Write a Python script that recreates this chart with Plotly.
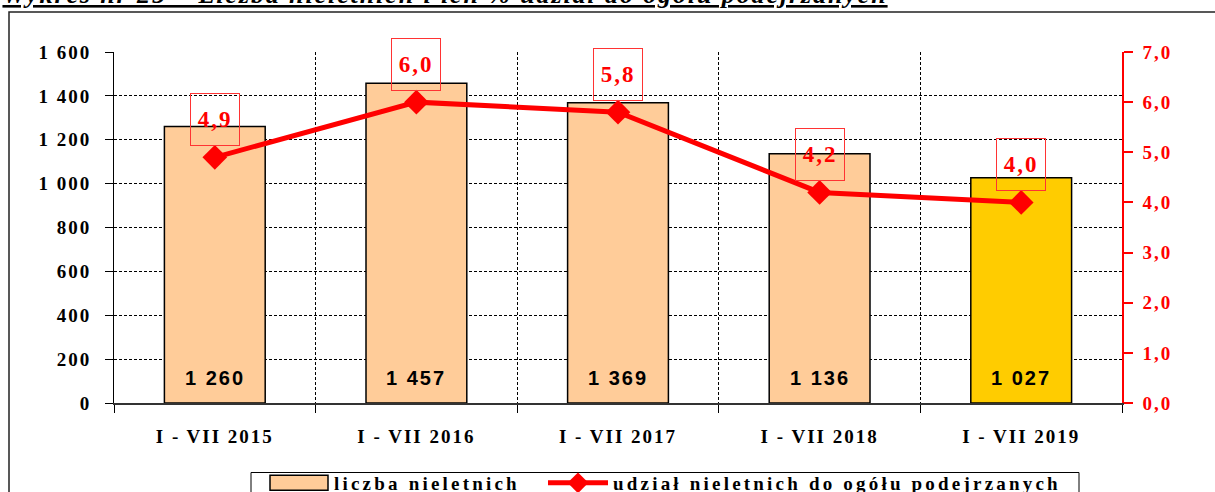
import plotly.graph_objects as go

# ---------------- data ----------------
categories = ["I - VII 2015", "I - VII 2016", "I - VII 2017", "I - VII 2018", "I - VII 2019"]
juveniles = [1260, 1457, 1369, 1136, 1027]
juvenile_labels = ["1 260", "1 457", "1 369", "1 136", "1 027"]
share_pct = [4.9, 6.0, 5.8, 4.2, 4.0]
share_labels = ["4,9", "6,0", "5,8", "4,2", "4,0"]
left_tickvals = [0, 200, 400, 600, 800, 1000, 1200, 1400, 1600]
left_ticktext = ["0", "200", "400", "600", "800", "1 000", "1 200", "1 400", "1 600"]
right_tickvals = [0, 1, 2, 3, 4, 5, 6, 7]
right_ticktext = ["0,0", "1,0", "2,0", "3,0", "4,0", "5,0", "6,0", "7,0"]
bar_colors = ["#FFCC99", "#FFCC99", "#FFCC99", "#FFCC99", "#FFCC00"]
series_bar_name = "liczba nieletnich"
series_line_name = "udział nieletnich do ogółu podejrzanych"
title_text = "Wykres nr 25 – Liczba nieletnich i ich % udział do ogółu podejrzanych"

# ---------------- geometry ----------------
W, H = 1215, 492
L, R, T, B = 114, 93, 52, 89
PW, PH = W - L - R, H - T - B


def px(x):
    return (x - L) / PW


def py(y):
    return (H - B - y) / PH


SERIF = "Liberation Serif, Times New Roman, serif"
SANS = "Liberation Sans, Arial, sans-serif"

fig = go.Figure()
fig.add_trace(go.Bar(
    x=categories, y=juveniles, name=series_bar_name,
    marker=dict(color=bar_colors, line=dict(color="black", width=1.5)),
    width=0.5, legend="legend", hoverinfo="skip",
))
fig.add_trace(go.Scatter(
    x=categories, y=share_pct, name=series_line_name, yaxis="y2",
    mode="lines+markers",
    line=dict(color="#FF0000", width=5),
    marker=dict(symbol="diamond", size=19, color="#FF0000"),
    legend="legend2", hoverinfo="skip",
))

annotations = []
for c, v, t in zip(categories, share_pct, share_labels):
    annotations.append(dict(
        x=c, y=v, xref="x", yref="y2", text="<b>" + t + "</b>", showarrow=False,
        font=dict(family=SERIF, size=23, color="#FF0000"),
        bordercolor="#FF3333", borderwidth=1, borderpad=0,
        width=48, height=51, yshift=38,
    ))
for c, t in zip(categories, juvenile_labels):
    annotations.append(dict(
        x=c, y=0, xref="x", yref="y", text="<b>" + t + "</b>", showarrow=False,
        yanchor="bottom", yshift=12,
        font=dict(family=SANS, size=20, color="black"),
    ))
annotations.append(dict(
    x=px(445), y=py(11), xref="paper", yref="paper", xanchor="center", yanchor="bottom",
    text="<b><i><u>" + title_text + "</u></i></b>", showarrow=False,
    font=dict(family=SERIF, size=26, color="black"),
))

shapes = [
    dict(type="rect", xref="paper", yref="paper", x0=px(9), x1=px(1260), y0=py(12), y1=py(540),
         line=dict(color="#222222", width=1.5), fillcolor="rgba(0,0,0,0)", layer="above"),
    dict(type="rect", xref="paper", yref="paper", x0=px(251), x1=px(1079), y0=py(472.5), y1=py(540),
         line=dict(color="black", width=1), fillcolor="rgba(0,0,0,0)", layer="above"),
]

tickfont = dict(family=SERIF, size=19, color="black", weight="bold")

fig.update_layout(
    width=W, height=H,
    margin=dict(l=L, r=R, t=T, b=B, autoexpand=False),
    paper_bgcolor="white", plot_bgcolor="white",
    showlegend=True,
    annotations=annotations,
    shapes=shapes,
    xaxis=dict(
        type="category", tickson="boundaries",
        showgrid=True, gridcolor="black", gridwidth=1, griddash="3px,2px",
        showline=True, linecolor="#333333", linewidth=1.5,
        ticks="outside", ticklen=8, tickcolor="black", tickwidth=1,
        tickfont=tickfont, ticklabelstandoff=15,
    ),
    yaxis=dict(
        range=[0, 1600], tickvals=left_tickvals, ticktext=left_ticktext,
        showgrid=True, gridcolor="black", gridwidth=1, griddash="3px,2px",
        showline=True, linecolor="black", linewidth=1,
        ticks="outside", ticklen=8, tickcolor="black",
        tickfont=tickfont, zeroline=False, ticklabelstandoff=10,
    ),
    yaxis2=dict(
        overlaying="y", side="right", range=[0, 7],
        tickvals=right_tickvals, ticktext=right_ticktext,
        showgrid=False, zeroline=False,
        showline=True, linecolor="#FF0000", linewidth=1.5,
        ticks="outside", ticklen=9, tickcolor="#FF0000", tickwidth=1.5,
        tickfont=dict(family=SERIF, size=19, color="#FF0000", weight="bold"),
        ticklabelstandoff=6,
    ),
    yaxis3=dict(
        overlaying="y", side="right", anchor="x", range=[0, 7],
        tickvals=right_tickvals, showticklabels=False,
        showgrid=False, zeroline=False, showline=False,
        ticks="inside", ticklen=8, tickcolor="#FF0000", tickwidth=1.5,
    ),
    legend=dict(
        x=px(264), y=py(464), xanchor="left", yanchor="top", orientation="h",
        bgcolor="rgba(0,0,0,0)", borderwidth=0, itemwidth=60,
        entrywidth=270, entrywidthmode="pixels",
        font=dict(family=SERIF, size=19, color="black", weight="bold"),
    ),
    legend2=dict(
        x=px(543), y=py(464), xanchor="left", yanchor="top", orientation="h",
        bgcolor="rgba(0,0,0,0)", borderwidth=0, itemwidth=60,
        entrywidth=520, entrywidthmode="pixels",
        font=dict(family=SERIF, size=19, color="black", weight="bold"),
    ),
)

post = """
document.body.style.margin = '0';
document.body.style.padding = '0';
var css = document.createElement('style');
css.textContent = [
  '.xtick text, .ytick text, .y2tick text { letter-spacing: 2px; }',
  '.infolayer g.legend text, .infolayer g.legend2 text, text.legendtext, text.legend2text { letter-spacing: 3.2px; }',
  '.annotation-text { letter-spacing: 2px; }',
  'g.annotation[data-index="10"] .annotation-text { letter-spacing: 1.9px; }',
  '.infolayer g.legend g.legendpoints path { d: path("M29,7.5H-29V-7.5H29Z"); }'
].join('\\n');
document.head.appendChild(css);
"""

fig.write_html("out.html", post_script=post, config={"displayModeBar": False})
